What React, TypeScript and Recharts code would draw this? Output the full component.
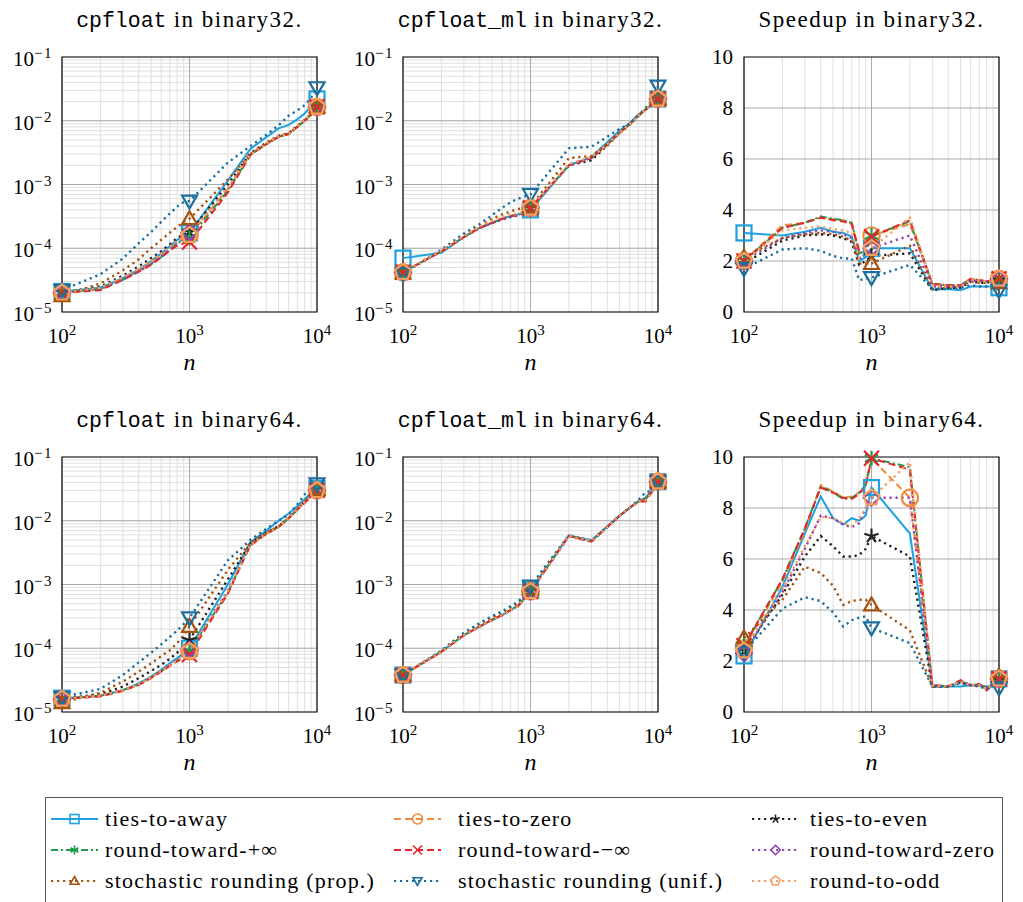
import React from "react";
import { LineChart, Line, XAxis, YAxis, CartesianGrid, ReferenceArea } from "recharts";

// ─── Data ─────────────────────────────────────────────────────────────────────

const nValues = [100, 200, 300, 400, 500, 600, 700, 800, 900, 1000, 2000, 3000, 4000, 5000, 6000, 7000, 8000, 9000, 10000];

const xTicks = [100, 200, 300, 400, 500, 600, 700, 800, 900, 1000, 2000, 3000, 4000, 5000, 6000, 7000, 8000, 9000, 10000];
const yLogTicks = [
  1e-5, 2e-5, 3e-5, 4e-5, 5e-5, 6e-5, 7e-5, 8e-5, 9e-5,
  1e-4, 2e-4, 3e-4, 4e-4, 5e-4, 6e-4, 7e-4, 8e-4, 9e-4,
  1e-3, 2e-3, 3e-3, 4e-3, 5e-3, 6e-3, 7e-3, 8e-3, 9e-3,
  1e-2, 2e-2, 3e-2, 4e-2, 5e-2, 6e-2, 7e-2, 8e-2, 9e-2, 1e-1,
];
const yLogMajor = [1e-4, 1e-3, 1e-2];
const speedTicks = [0, 2, 4, 6, 8, 10];
const speedMajor = [2, 4, 6, 8];

// cpfloat, binary32
const cp32Away = [2.1e-5, 2.4e-5, 3.4e-5, 4.6e-5, 6.3e-5, 8.3e-5, 1.08e-4, 1.35e-4, 1.6e-4, 1.75e-4, 1.15e-3, 3.6e-3, 5.5e-3, 7.6e-3, 8.6e-3, 1.05e-2, 1.3e-2, 1.7e-2, 2.2e-2];
const cp32Zero = [2.0e-5, 2.3e-5, 3.3e-5, 4.5e-5, 5.9e-5, 7.7e-5, 9.8e-5, 1.22e-4, 1.42e-4, 1.6e-4, 8.5e-4, 3.0e-3, 4.4e-3, 5.7e-3, 6.3e-3, 8.1e-3, 1.02e-2, 1.27e-2, 1.65e-2];
const cp32Even = [2.0e-5, 2.5e-5, 3.7e-5, 5.2e-5, 7.0e-5, 9.0e-5, 1.15e-4, 1.45e-4, 1.65e-4, 1.8e-4, 1.0e-3, 3.1e-3, 4.5e-3, 5.8e-3, 6.4e-3, 8.2e-3, 1.03e-2, 1.28e-2, 1.7e-2];
const cp32Plus = [2.0e-5, 2.3e-5, 3.2e-5, 4.3e-5, 5.6e-5, 7.3e-5, 9.3e-5, 1.18e-4, 1.38e-4, 1.45e-4, 8.0e-4, 2.9e-3, 4.3e-3, 5.6e-3, 6.2e-3, 8.0e-3, 1.0e-2, 1.25e-2, 1.65e-2];
const cp32Minus = [2.0e-5, 2.2e-5, 3.2e-5, 4.3e-5, 5.5e-5, 7.2e-5, 9.2e-5, 1.1e-4, 1.2e-4, 1.25e-4, 7.5e-4, 2.9e-3, 4.3e-3, 5.6e-3, 6.2e-3, 8.0e-3, 1.0e-2, 1.25e-2, 1.65e-2];
const cp32Tz = [2.0e-5, 2.3e-5, 3.3e-5, 4.4e-5, 5.8e-5, 7.6e-5, 9.7e-5, 1.22e-4, 1.45e-4, 1.75e-4, 8.8e-4, 3.0e-3, 4.4e-3, 5.7e-3, 6.3e-3, 8.1e-3, 1.02e-2, 1.27e-2, 1.65e-2];
const cp32Srp = [1.8e-5, 2.8e-5, 4.5e-5, 6.7e-5, 1.0e-4, 1.35e-4, 1.75e-4, 2.15e-4, 2.6e-4, 2.9e-4, 1.2e-3, 3.0e-3, 4.3e-3, 5.6e-3, 6.3e-3, 8.0e-3, 1.0e-2, 1.25e-2, 1.65e-2];
const cp32Sru = [2.2e-5, 3.9e-5, 6.9e-5, 1.2e-4, 1.8e-4, 2.6e-4, 3.5e-4, 4.5e-4, 5.3e-4, 5.5e-4, 2.2e-3, 4.0e-3, 6.0e-3, 8.5e-3, 1.2e-2, 1.45e-2, 1.75e-2, 2.3e-2, 3.3e-2];
const cp32Odd = [2.0e-5, 2.4e-5, 3.5e-5, 4.8e-5, 6.3e-5, 8.2e-5, 1.05e-4, 1.3e-4, 1.5e-4, 1.6e-4, 9.0e-4, 3.0e-3, 4.4e-3, 5.7e-3, 6.3e-3, 8.1e-3, 1.02e-2, 1.27e-2, 1.65e-2];

// cpfloat_ml, binary32
const ml32Away = [7.0e-5, 8.5e-5, 1.5e-4, 2.1e-4, 2.5e-4, 2.9e-4, 3.2e-4, 3.4e-4, 3.6e-4, 4.0e-4, 2.0e-3, 2.7e-3, 4.6e-3, 7.0e-3, 9.2e-3, 1.25e-2, 1.5e-2, 1.8e-2, 2.2e-2];
const ml32Zero = [4.2e-5, 9.0e-5, 1.5e-4, 2.1e-4, 2.5e-4, 2.9e-4, 3.2e-4, 3.35e-4, 3.6e-4, 4.3e-4, 2.0e-3, 2.6e-3, 4.2e-3, 6.5e-3, 8.8e-3, 1.2e-2, 1.5e-2, 1.8e-2, 2.2e-2];
const ml32Even = [4.2e-5, 9.0e-5, 1.5e-4, 2.1e-4, 2.5e-4, 2.85e-4, 3.1e-4, 3.3e-4, 3.6e-4, 4.3e-4, 2.0e-3, 2.4e-3, 4.1e-3, 6.4e-3, 8.7e-3, 1.2e-2, 1.5e-2, 1.8e-2, 2.2e-2];
const ml32Plus = [4.2e-5, 9.0e-5, 1.5e-4, 2.1e-4, 2.5e-4, 2.9e-4, 3.2e-4, 3.35e-4, 3.6e-4, 4.3e-4, 2.0e-3, 2.6e-3, 4.2e-3, 6.5e-3, 8.8e-3, 1.2e-2, 1.5e-2, 1.8e-2, 2.2e-2];
const ml32Minus = [4.2e-5, 8.9e-5, 1.5e-4, 2.1e-4, 2.5e-4, 2.9e-4, 3.2e-4, 3.3e-4, 3.6e-4, 4.3e-4, 2.0e-3, 2.6e-3, 4.2e-3, 6.5e-3, 8.8e-3, 1.2e-2, 1.5e-2, 1.8e-2, 2.2e-2];
const ml32Tz = [4.2e-5, 9.0e-5, 1.5e-4, 2.1e-4, 2.5e-4, 2.9e-4, 3.2e-4, 3.35e-4, 3.6e-4, 4.3e-4, 2.0e-3, 2.6e-3, 4.2e-3, 6.5e-3, 8.8e-3, 1.2e-2, 1.5e-2, 1.8e-2, 2.2e-2];
const ml32Srp = [4.1e-5, 9.2e-5, 1.6e-4, 2.2e-4, 2.9e-4, 3.4e-4, 3.8e-4, 4.1e-4, 4.3e-4, 4.5e-4, 2.6e-3, 2.8e-3, 4.3e-3, 6.6e-3, 8.8e-3, 1.2e-2, 1.5e-2, 1.8e-2, 2.2e-2];
const ml32Sru = [4.0e-5, 9.5e-5, 1.7e-4, 2.4e-4, 3.3e-4, 4.3e-4, 5.3e-4, 6.0e-4, 6.5e-4, 7.0e-4, 3.7e-3, 3.9e-3, 5.6e-3, 7.5e-3, 9.0e-3, 1.2e-2, 1.6e-2, 2.1e-2, 3.5e-2];
const ml32Odd = [4.2e-5, 9.1e-5, 1.55e-4, 2.2e-4, 2.7e-4, 3.1e-4, 3.4e-4, 3.5e-4, 3.8e-4, 4.3e-4, 2.1e-3, 2.7e-3, 4.2e-3, 6.5e-3, 8.8e-3, 1.2e-2, 1.5e-2, 1.8e-2, 2.2e-2];

// speedup, binary32
const sp32Away = [3.1, 3.0, 3.15, 3.3, 3.15, 3.1, 2.95, 2.0, 2.15, 2.5, 2.5, 0.88, 0.9, 0.85, 1.0, 1.0, 1.0, 1.0, 0.95];
const sp32Zero = [2.0, 3.4, 3.5, 3.7, 3.65, 3.6, 3.45, 2.3, 2.4, 3.0, 3.45, 1.1, 1.05, 1.05, 1.3, 1.25, 1.2, 1.25, 1.3];
const sp32Even = [1.9, 2.8, 3.0, 3.05, 3.0, 2.9, 2.75, 1.85, 2.0, 2.2, 2.3, 0.85, 0.95, 0.95, 1.2, 1.15, 1.15, 1.2, 1.25];
const sp32Plus = [2.0, 3.3, 3.5, 3.75, 3.65, 3.6, 3.5, 2.3, 2.4, 3.0, 3.55, 1.1, 1.05, 1.05, 1.3, 1.25, 1.2, 1.25, 1.3];
const sp32Minus = [2.0, 3.3, 3.5, 3.7, 3.6, 3.55, 3.45, 2.4, 2.3, 2.95, 3.6, 1.1, 1.05, 1.05, 1.3, 1.25, 1.2, 1.25, 1.3];
const sp32Tz = [2.0, 2.9, 3.1, 3.2, 3.15, 3.05, 2.9, 2.1, 2.2, 2.5, 3.0, 1.0, 1.0, 1.0, 1.25, 1.2, 1.2, 1.25, 1.3];
const sp32Srp = [2.15, 2.9, 3.05, 3.1, 3.05, 2.95, 2.8, 1.9, 1.9, 1.9, 2.6, 0.9, 0.95, 1.0, 1.2, 1.15, 1.15, 1.2, 1.15];
const sp32Sru = [1.7, 2.45, 2.5, 2.4, 2.2, 2.1, 2.1, 1.25, 1.3, 1.35, 1.85, 0.9, 0.9, 0.95, 1.05, 1.0, 1.0, 1.0, 0.85];
const sp32Odd = [2.0, 3.2, 3.3, 3.35, 3.25, 3.2, 3.1, 2.1, 2.3, 2.5, 3.7, 1.05, 1.0, 1.0, 1.3, 1.25, 1.2, 1.25, 1.3];

// cpfloat, binary64
const cp64Away = [1.65e-5, 1.8e-5, 2.2e-5, 2.8e-5, 3.6e-5, 4.6e-5, 5.8e-5, 7.0e-5, 8.3e-5, 1.0e-4, 1.0e-3, 4.6e-3, 7.0e-3, 1.0e-2, 1.3e-2, 1.7e-2, 2.2e-2, 2.7e-2, 3.2e-2];
const cp64Zero = [1.6e-5, 1.8e-5, 2.2e-5, 2.7e-5, 3.5e-5, 4.4e-5, 5.4e-5, 6.4e-5, 7.6e-5, 9.0e-5, 7.5e-4, 4.2e-3, 6.3e-3, 8.0e-3, 1.1e-2, 1.5e-2, 2.0e-2, 2.5e-2, 3.0e-2];
const cp64Even = [1.6e-5, 1.9e-5, 2.5e-5, 3.4e-5, 4.4e-5, 5.5e-5, 6.8e-5, 8.5e-5, 1.05e-4, 1.35e-4, 1.2e-3, 4.4e-3, 6.5e-3, 8.2e-3, 1.1e-2, 1.5e-2, 2.0e-2, 2.5e-2, 3.1e-2];
const cp64Plus = [1.6e-5, 1.8e-5, 2.2e-5, 2.7e-5, 3.5e-5, 4.4e-5, 5.4e-5, 6.4e-5, 7.6e-5, 9.0e-5, 7.5e-4, 4.2e-3, 6.3e-3, 8.0e-3, 1.1e-2, 1.5e-2, 2.0e-2, 2.5e-2, 3.0e-2];
const cp64Minus = [1.6e-5, 1.75e-5, 2.15e-5, 2.65e-5, 3.4e-5, 4.3e-5, 5.3e-5, 6.2e-5, 7.2e-5, 8.0e-5, 7.2e-4, 4.1e-3, 6.2e-3, 8.0e-3, 1.1e-2, 1.5e-2, 1.9e-2, 2.4e-2, 3.0e-2];
const cp64Tz = [1.6e-5, 1.8e-5, 2.2e-5, 2.7e-5, 3.5e-5, 4.4e-5, 5.5e-5, 6.5e-5, 7.8e-5, 9.5e-5, 8.0e-4, 4.3e-3, 6.3e-3, 8.0e-3, 1.1e-2, 1.5e-2, 2.0e-2, 2.5e-2, 3.0e-2];
const cp64Srp = [1.4e-5, 2.0e-5, 3.0e-5, 4.3e-5, 5.8e-5, 7.5e-5, 9.3e-5, 1.2e-4, 1.6e-4, 2.2e-4, 1.7e-3, 4.5e-3, 6.5e-3, 8.2e-3, 1.1e-2, 1.5e-2, 2.0e-2, 2.5e-2, 3.1e-2];
const cp64Sru = [1.7e-5, 2.3e-5, 3.8e-5, 6.0e-5, 8.5e-5, 1.15e-4, 1.5e-4, 1.9e-4, 2.4e-4, 3.0e-4, 2.4e-3, 5.0e-3, 7.5e-3, 1.0e-2, 1.25e-2, 1.8e-2, 2.6e-2, 3.0e-2, 3.8e-2];
const cp64Odd = [1.6e-5, 1.8e-5, 2.2e-5, 2.7e-5, 3.5e-5, 4.4e-5, 5.4e-5, 6.4e-5, 7.6e-5, 9.0e-5, 7.8e-4, 4.2e-3, 6.3e-3, 8.0e-3, 1.1e-2, 1.5e-2, 2.0e-2, 2.4e-2, 3.0e-2];

// cpfloat_ml, binary64
const ml64Away = [3.8e-5, 8.9e-5, 1.6e-4, 2.2e-4, 2.8e-4, 3.3e-4, 4.0e-4, 4.7e-4, 6.2e-4, 8.2e-4, 5.9e-3, 4.9e-3, 8.1e-3, 1.2e-2, 1.6e-2, 2.0e-2, 2.3e-2, 3.0e-2, 4.1e-2];
const ml64Zero = [3.8e-5, 8.8e-5, 1.6e-4, 2.2e-4, 2.8e-4, 3.3e-4, 4.0e-4, 4.6e-4, 6.0e-4, 7.8e-4, 5.8e-3, 4.8e-3, 8.0e-3, 1.2e-2, 1.6e-2, 2.0e-2, 2.2e-2, 2.9e-2, 4.1e-2];
const ml64Even = [3.8e-5, 8.8e-5, 1.6e-4, 2.2e-4, 2.8e-4, 3.3e-4, 4.0e-4, 4.6e-4, 6.0e-4, 7.8e-4, 5.8e-3, 4.7e-3, 8.0e-3, 1.2e-2, 1.6e-2, 2.0e-2, 2.2e-2, 2.9e-2, 4.1e-2];
const ml64Plus = [3.8e-5, 8.9e-5, 1.6e-4, 2.2e-4, 2.8e-4, 3.3e-4, 4.0e-4, 4.6e-4, 6.0e-4, 7.8e-4, 5.8e-3, 4.8e-3, 8.0e-3, 1.2e-2, 1.6e-2, 2.0e-2, 2.2e-2, 2.9e-2, 4.1e-2];
const ml64Minus = [3.8e-5, 8.8e-5, 1.6e-4, 2.2e-4, 2.8e-4, 3.3e-4, 4.0e-4, 4.6e-4, 6.0e-4, 7.8e-4, 5.8e-3, 4.7e-3, 8.0e-3, 1.2e-2, 1.6e-2, 2.0e-2, 2.0e-2, 2.9e-2, 4.1e-2];
const ml64Tz = [3.8e-5, 8.8e-5, 1.6e-4, 2.2e-4, 2.8e-4, 3.3e-4, 4.0e-4, 4.6e-4, 6.0e-4, 7.8e-4, 5.8e-3, 4.8e-3, 8.0e-3, 1.2e-2, 1.6e-2, 2.0e-2, 2.2e-2, 2.9e-2, 4.1e-2];
const ml64Srp = [3.8e-5, 9.0e-5, 1.65e-4, 2.35e-4, 3.0e-4, 3.5e-4, 4.3e-4, 5.0e-4, 6.5e-4, 8.5e-4, 5.8e-3, 4.8e-3, 8.0e-3, 1.2e-2, 1.6e-2, 2.0e-2, 2.2e-2, 2.9e-2, 4.1e-2];
const ml64Sru = [3.8e-5, 9.2e-5, 1.75e-4, 2.5e-4, 3.2e-4, 3.8e-4, 4.6e-4, 5.4e-4, 6.8e-4, 9.5e-4, 5.9e-3, 4.9e-3, 8.1e-3, 1.2e-2, 1.6e-2, 2.1e-2, 2.8e-2, 3.0e-2, 4.1e-2];
const ml64Odd = [3.8e-5, 8.8e-5, 1.6e-4, 2.2e-4, 2.8e-4, 3.3e-4, 4.0e-4, 4.6e-4, 6.0e-4, 7.8e-4, 5.8e-3, 4.8e-3, 8.0e-3, 1.2e-2, 1.6e-2, 2.0e-2, 2.1e-2, 2.8e-2, 4.1e-2];

// speedup, binary64
const sp64Away = [2.2, 4.9, 7.0, 8.45, 7.6, 7.35, 7.6, 7.5, 7.7, 8.8, 7.0, 1.0, 1.0, 1.0, 1.05, 1.05, 1.0, 1.0, 1.3];
const sp64Zero = [2.5, 5.1, 7.1, 8.9, 8.65, 8.4, 8.45, 8.6, 8.9, 9.95, 8.4, 1.05, 1.0, 1.2, 1.05, 1.05, 0.9, 1.1, 1.3];
const sp64Even = [2.4, 4.6, 6.1, 6.9, 6.5, 6.1, 6.1, 6.15, 6.4, 6.9, 6.1, 1.0, 1.0, 1.15, 1.05, 1.05, 0.95, 1.05, 1.25];
const sp64Plus = [2.6, 5.2, 7.2, 8.85, 8.6, 8.35, 8.4, 8.6, 8.9, 9.95, 9.6, 1.05, 1.0, 1.2, 1.05, 1.1, 0.9, 1.1, 1.3];
const sp64Minus = [2.6, 5.2, 7.2, 8.8, 8.6, 8.4, 8.35, 8.55, 8.85, 9.95, 9.5, 1.05, 1.0, 1.25, 1.05, 1.1, 0.85, 1.1, 1.3];
const sp64Tz = [2.3, 4.7, 6.4, 7.7, 7.6, 7.35, 7.25, 7.4, 8.0, 8.4, 8.4, 1.05, 1.0, 1.2, 1.05, 1.05, 0.95, 1.05, 1.3];
const sp64Srp = [2.9, 4.4, 5.7, 5.45, 4.95, 4.2, 4.35, 4.4, 4.4, 4.2, 3.2, 1.0, 1.0, 1.2, 1.05, 1.05, 0.95, 1.1, 1.4];
const sp64Sru = [2.35, 4.05, 4.5, 4.35, 3.9, 3.35, 3.6, 3.7, 3.75, 3.3, 2.7, 1.0, 1.0, 1.15, 1.05, 1.0, 0.9, 1.0, 0.95];
const sp64Odd = [2.4, 4.8, 6.5, 7.65, 7.6, 7.4, 7.3, 7.6, 8.0, 8.4, 9.8, 1.05, 1.0, 1.2, 1.05, 1.05, 0.9, 1.1, 1.3];

// ─── Styles ───────────────────────────────────────────────────────────────────

const SERIF = "'Liberation Serif', 'DejaVu Serif', 'Times New Roman', serif";
const MONO = "'Liberation Mono', 'DejaVu Sans Mono', monospace";
const DOT = "2.2 3.8";
const MINOR = "#dedede";
const MAJOR = "#ababab";

type Shape = "square" | "circle" | "star" | "asterisk" | "cross" | "diamond" | "triangle" | "triangleDown" | "pentagon";

interface SeriesDef {
  key: string;
  name: string;
  color: string;
  dash?: string;
  shape: Shape;
}

const SERIES: SeriesDef[] = [
  { key: "away", name: "ties-to-away", color: "#1DA1E0", shape: "square" },
  { key: "zero", name: "ties-to-zero", color: "#F08A3C", dash: "7 4", shape: "circle" },
  { key: "even", name: "ties-to-even", color: "#222222", dash: DOT, shape: "star" },
  { key: "plus", name: "round-toward-+∞", color: "#1E9B4C", dash: "7 3 2 3", shape: "asterisk" },
  { key: "minus", name: "round-toward-−∞", color: "#E8242B", dash: "7 4", shape: "cross" },
  { key: "tz", name: "round-toward-zero", color: "#8E44AD", dash: DOT, shape: "diamond" },
  { key: "srp", name: "stochastic rounding (prop.)", color: "#A5520F", dash: DOT, shape: "triangle" },
  { key: "sru", name: "stochastic rounding (unif.)", color: "#1B6F9E", dash: DOT, shape: "triangleDown" },
  { key: "odd", name: "round-to-odd", color: "#F5A05E", dash: DOT, shape: "pentagon" },
];

interface PanelDef {
  mono: string;
  rest: string;
  left: number;
  top: number;
  log: boolean;
  values: Record<string, number[]>;
  marks?: Record<string, number[]>;
}

const DEFAULT_MARKS = [100, 1000, 10000];

const PANELS: PanelDef[] = [
  {
    mono: "cpfloat", rest: " in binary32.", left: 62, top: 57, log: true,
    values: { away: cp32Away, zero: cp32Zero, even: cp32Even, plus: cp32Plus, minus: cp32Minus, tz: cp32Tz, srp: cp32Srp, sru: cp32Sru, odd: cp32Odd },
  },
  {
    mono: "cpfloat_ml", rest: " in binary32.", left: 403, top: 57, log: true,
    values: { away: ml32Away, zero: ml32Zero, even: ml32Even, plus: ml32Plus, minus: ml32Minus, tz: ml32Tz, srp: ml32Srp, sru: ml32Sru, odd: ml32Odd },
  },
  {
    mono: "", rest: "Speedup in binary32.", left: 744, top: 57, log: false,
    values: { away: sp32Away, zero: sp32Zero, even: sp32Even, plus: sp32Plus, minus: sp32Minus, tz: sp32Tz, srp: sp32Srp, sru: sp32Sru, odd: sp32Odd },
  },
  {
    mono: "cpfloat", rest: " in binary64.", left: 62, top: 457, log: true,
    values: { away: cp64Away, zero: cp64Zero, even: cp64Even, plus: cp64Plus, minus: cp64Minus, tz: cp64Tz, srp: cp64Srp, sru: cp64Sru, odd: cp64Odd },
  },
  {
    mono: "cpfloat_ml", rest: " in binary64.", left: 403, top: 457, log: true,
    values: { away: ml64Away, zero: ml64Zero, even: ml64Even, plus: ml64Plus, minus: ml64Minus, tz: ml64Tz, srp: ml64Srp, sru: ml64Sru, odd: ml64Odd },
  },
  {
    mono: "", rest: "Speedup in binary64.", left: 744, top: 457, log: false,
    values: { away: sp64Away, zero: sp64Zero, even: sp64Even, plus: sp64Plus, minus: sp64Minus, tz: sp64Tz, srp: sp64Srp, sru: sp64Sru, odd: sp64Odd },
    marks: { zero: [100, 2000, 10000] },
  },
];

const PLOT = 255;
const Y_W = 60;
const RIGHT = 22;

// ─── Markers ──────────────────────────────────────────────────────────────────

function polyPoints(cx: number, cy: number, r: number, n: number, start: number) {
  const pts: string[] = [];
  for (let k = 0; k < n; k++) {
    const a = ((start + (360 / n) * k) * Math.PI) / 180;
    pts.push(`${cx + r * Math.cos(a)},${cy + r * Math.sin(a)}`);
  }
  return pts.join(" ");
}

function Marker({ shape, cx, cy, r, color, sw }: { shape: Shape; cx: number; cy: number; r: number; color: string; sw: number }) {
  const common = { fill: "none", stroke: color, strokeWidth: sw };
  switch (shape) {
    case "square":
      return <rect x={cx - r} y={cy - r} width={2 * r} height={2 * r} {...common} />;
    case "circle":
      return <circle cx={cx} cy={cy} r={r * 1.1} {...common} />;
    case "diamond":
      return <polygon points={polyPoints(cx, cy, r * 1.05, 4, -90)} {...common} />;
    case "triangle":
      return <polygon points={polyPoints(cx, cy + r * 0.15, r * 1.15, 3, -90)} {...common} />;
    case "triangleDown":
      return <polygon points={polyPoints(cx, cy - r * 0.15, r * 1.15, 3, 90)} {...common} />;
    case "pentagon":
      return <polygon points={polyPoints(cx, cy, r * 1.1, 5, -90)} {...common} />;
    case "cross":
      return (
        <g stroke={color} strokeWidth={sw}>
          <line x1={cx - r} y1={cy - r} x2={cx + r} y2={cy + r} />
          <line x1={cx - r} y1={cy + r} x2={cx + r} y2={cy - r} />
        </g>
      );
    case "star":
    case "asterisk": {
      const n = shape === "star" ? 5 : 6;
      const arms = [];
      for (let k = 0; k < n; k++) {
        const a = ((-90 + (360 / n) * k) * Math.PI) / 180;
        arms.push(<line key={k} x1={cx} y1={cy} x2={cx + r * Math.cos(a)} y2={cy + r * Math.sin(a)} />);
      }
      return <g stroke={color} strokeWidth={sw}>{arms}</g>;
    }
  }
  return null;
}

// ─── Ticks ────────────────────────────────────────────────────────────────────

function powerOf(v: number) {
  const e = Math.round(Math.log10(v));
  return Math.abs(v / Math.pow(10, e) - 1) < 1e-6 ? e : null;
}

function XTick(props: any) {
  const { x, y, payload } = props;
  const e = powerOf(payload.value);
  if (e === null) return <g />;
  return (
    <text x={x} y={y + 31} textAnchor="middle" fontFamily={SERIF} fontSize={21} fill="#000">
      10<tspan dy={-8} fontSize={15}>{e}</tspan>
    </text>
  );
}

function YLogTick(props: any) {
  const { x, y, payload } = props;
  const e = powerOf(payload.value);
  if (e === null) return <g />;
  return (
    <text x={x - 9} y={y + 9} textAnchor="end" fontFamily={SERIF} fontSize={21} fill="#000">
      10<tspan dy={-8} fontSize={15} style={{ letterSpacing: "1.5px" }}>{"−" + Math.abs(e)}</tspan>
    </text>
  );
}

function YLinTick(props: any) {
  const { x, y, payload } = props;
  return (
    <text x={x - 11} y={y + 7} textAnchor="end" fontFamily={SERIF} fontSize={21} fill="#000">
      {payload.value}
    </text>
  );
}

// ─── Panel ────────────────────────────────────────────────────────────────────

function Panel({ p }: { p: PanelDef }) {
  const rows = nValues.map((n, i) => {
    const r: Record<string, number> = { n };
    SERIES.forEach((s) => {
      r[s.key] = p.values[s.key][i];
    });
    return r;
  });
  const yDomain = p.log ? [1e-5, 1e-1] : [0, 10];

  return (
    <div style={{ position: "absolute", left: p.left - Y_W, top: p.top - 57 }}>
      <LineChart
        width={Y_W + PLOT + RIGHT}
        height={57 + PLOT + 45}
        data={rows}
        margin={{ top: 57, right: RIGHT, bottom: 0, left: 0 }}
      >
        <CartesianGrid stroke={MINOR} horizontal={p.log} vertical />
        <CartesianGrid
          stroke={MAJOR}
          horizontalValues={p.log ? yLogMajor : speedMajor}
          verticalValues={[1000]}
        />
        <XAxis
          dataKey="n"
          type="number"
          scale="log"
          domain={[100, 10000]}
          ticks={xTicks}
          interval={0}
          tickLine={false}
          axisLine={false}
          tickSize={0}
          tickMargin={0}
          height={45}
          tick={(t: any) => <XTick {...t} />}
        />
        <YAxis
          type="number"
          scale={p.log ? "log" : "linear"}
          domain={yDomain}
          ticks={p.log ? yLogTicks : speedTicks}
          interval={0}
          tickLine={false}
          axisLine={false}
          tickSize={0}
          tickMargin={0}
          width={Y_W}
          tick={(t: any) => (p.log ? <YLogTick {...t} /> : <YLinTick {...t} />)}
        />
        <ReferenceArea
          x1={100}
          x2={10000}
          y1={yDomain[0]}
          y2={yDomain[1]}
          fill="none"
          fillOpacity={0}
          stroke="#000"
          strokeWidth={1.2}
        />
        {SERIES.map((s) => {
          const marks = (p.marks && p.marks[s.key]) || DEFAULT_MARKS;
          return (
            <Line
              key={s.key}
              dataKey={s.key}
              stroke={s.color}
              strokeWidth={s.dash === DOT ? 2.4 : 2}
              strokeDasharray={s.dash}
              activeDot={false}
              isAnimationActive={false}
              dot={(d: any) => {
                const k = `${s.key}-${d.index}`;
                if (d.cx == null || d.cy == null || !marks.includes(d.payload.n)) return <g key={k} />;
                return (
                  <g key={k}>
                    <Marker shape={s.shape} cx={d.cx} cy={d.cy} r={7.5} color={s.color} sw={2.2} />
                  </g>
                );
              }}
            />
          );
        })}
      </LineChart>
    </div>
  );
}

// ─── Overlay: titles, axis labels, legend ─────────────────────────────────────

const LEGEND_SAMPLE_X = [51, 394, 752];
const LEGEND_TEXT_X = [105, 458, 810];
const LEGEND_ROW_Y = [819, 850, 881];

function Overlay() {
  return (
    <svg width={1023} height={902} style={{ position: "absolute", left: 0, top: 0, pointerEvents: "none" }}>
      {PANELS.map((p, i) => (
        <g key={i}>
          <text x={p.left + PLOT / 2} y={p.top - 30} textAnchor="middle" fontSize={23} fill="#000">
            {p.mono && <tspan fontFamily={MONO} fontSize={21.5}>{p.mono}</tspan>}
            <tspan fontFamily={SERIF} style={{ letterSpacing: "1.5px" }}>{p.rest}</tspan>
          </text>
          <text
            x={p.left + PLOT / 2}
            y={p.top + PLOT + 58}
            textAnchor="middle"
            fontFamily={SERIF}
            fontStyle="italic"
            fontSize={24}
            fill="#000"
          >
            n
          </text>
        </g>
      ))}

      <rect x={45.5} y={797.5} width={957} height={120} fill="#fff" stroke="#555" strokeWidth={1} />
      {SERIES.map((s, i) => {
        const col = i % 3;
        const row = Math.floor(i / 3);
        const x0 = LEGEND_SAMPLE_X[col];
        const y = LEGEND_ROW_Y[row];
        return (
          <g key={s.key}>
            <line
              x1={x0}
              y1={y}
              x2={x0 + 47}
              y2={y}
              stroke={s.color}
              strokeWidth={s.dash === DOT ? 2.2 : 1.8}
              strokeDasharray={s.dash}
            />
            <Marker shape={s.shape} cx={x0 + 23.5} cy={y} r={4.5} color={s.color} sw={1.6} />
            <text
              x={LEGEND_TEXT_X[col]}
              y={y + 7}
              fontFamily={SERIF}
              fontSize={22}
              fill="#000"
              style={{ letterSpacing: "1.2px" }}
            >
              {s.name}
            </text>
          </g>
        );
      })}
    </svg>
  );
}

export default function App() {
  return (
    <div style={{ position: "absolute", left: 0, top: 0, width: 1023, height: 902, background: "#fff", overflow: "hidden" }}>
      {PANELS.map((p, i) => (
        <Panel key={i} p={p} />
      ))}
      <Overlay />
    </div>
  );
}
